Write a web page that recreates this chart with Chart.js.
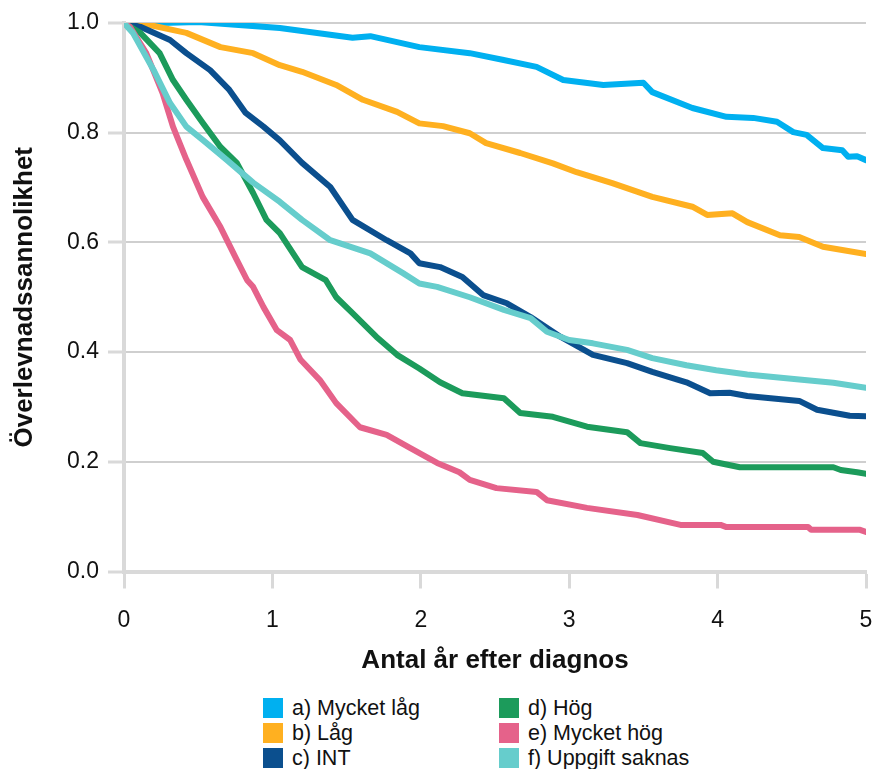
<!DOCTYPE html>
<html>
<head>
<meta charset="utf-8">
<script src="https://cdn.jsdelivr.net/npm/chart.js@4/dist/chart.umd.min.js"></script>
<style>
  body { margin: 0; background: #fff; font-family: "Liberation Sans", Arial, sans-serif; }
  .wrap { position: relative; width: 875px; height: 769px; }
  .chart_box { position: absolute; left: 0; top: 0; width: 875px; height: 690px; }
  .legend { position: absolute; left: 0; top: 0; }
  .legend_item { position: absolute; height: 20px; display: flex; align-items: center; font-size: 21.5px; color: #111; white-space: nowrap; }
  .legend_item span.box { width: 20px; height: 20px; margin-right: 9px; }
</style>
</head>
<body>
<div class="wrap">
  <div class="chart_box"><canvas id="chart"></canvas></div>
  <div class="legend" id="legend"></div>
</div>
<script>
// survival curves, years after diagnosis
const labels = ["a) Mycket låg", "b) Låg", "c) INT", "d) Hög", "e) Mycket hög", "f) Uppgift saknas"];
const colors = ["#00B0F0", "#FFB020", "#0B4F8E", "#1C9B5B", "#E5628A", "#66CDCC"];

const timeA = [0, 0.25, 0.5, 0.75, 1.05, 1.54, 1.66, 1.99, 2.33, 2.55, 2.78, 2.96, 3.23, 3.5, 3.56, 3.83, 4.06, 4.24, 4.4, 4.51, 4.6, 4.71, 4.84, 4.88, 4.94, 5];
const survA = [1.0, 1.0, 1.002, 0.997, 0.991, 0.973, 0.976, 0.956, 0.945, 0.933, 0.92, 0.896, 0.887, 0.891, 0.874, 0.845, 0.829, 0.827, 0.82, 0.801, 0.796, 0.772, 0.768, 0.756, 0.757, 0.75];

const timeB = [0, 0.11, 0.42, 0.65, 0.87, 1.05, 1.2, 1.43, 1.61, 1.84, 1.99, 2.15, 2.33, 2.44, 2.67, 2.89, 3.05, 3.29, 3.56, 3.83, 3.93, 4.1, 4.2, 4.42, 4.55, 4.71, 4.84, 5];
const survB = [1.0, 1.0, 0.982, 0.956, 0.945, 0.923, 0.911, 0.887, 0.86, 0.838, 0.817, 0.812, 0.799, 0.781, 0.763, 0.744, 0.728, 0.708, 0.683, 0.665, 0.65, 0.653, 0.637, 0.613, 0.61, 0.592, 0.586, 0.579];

const timeC = [0, 0.11, 0.31, 0.42, 0.58, 0.71, 0.82, 0.94, 1.05, 1.2, 1.39, 1.54, 1.77, 1.93, 1.99, 2.13, 2.28, 2.42, 2.58, 2.74, 2.94, 3.16, 3.39, 3.56, 3.79, 3.95, 4.08, 4.2, 4.55, 4.67, 4.89, 5];
const survC = [1.0, 0.993, 0.969, 0.945, 0.914, 0.878, 0.836, 0.811, 0.786, 0.745, 0.701, 0.641, 0.604, 0.58, 0.562, 0.555, 0.537, 0.504, 0.489, 0.464, 0.428, 0.395, 0.38, 0.364, 0.345, 0.325, 0.326, 0.32, 0.311, 0.295, 0.284, 0.283];

const timeD = [0, 0.11, 0.24, 0.33, 0.42, 0.53, 0.65, 0.76, 0.87, 0.96, 1.05, 1.2, 1.36, 1.43, 1.54, 1.7, 1.84, 1.99, 2.13, 2.28, 2.56, 2.67, 2.89, 3.12, 3.39, 3.48, 3.68, 3.9, 3.97, 4.15, 4.78, 4.83, 4.94, 5];
const survD = [1.0, 0.982, 0.945, 0.896, 0.86, 0.818, 0.774, 0.745, 0.69, 0.641, 0.617, 0.555, 0.531, 0.5, 0.471, 0.428, 0.395, 0.37, 0.345, 0.325, 0.316, 0.289, 0.282, 0.264, 0.254, 0.234, 0.225, 0.216, 0.2, 0.19, 0.19, 0.185, 0.181, 0.178];

const timeE = [0, 0.04, 0.15, 0.26, 0.33, 0.42, 0.53, 0.65, 0.76, 0.83, 0.87, 0.94, 1.03, 1.12, 1.19, 1.32, 1.43, 1.59, 1.77, 1.93, 2.11, 2.26, 2.33, 2.51, 2.78, 2.85, 3.12, 3.46, 3.75, 4.02, 4.06, 4.61, 4.63, 4.96, 5];
const survE = [1.0, 0.993, 0.945, 0.872, 0.811, 0.751, 0.683, 0.628, 0.568, 0.531, 0.519, 0.482, 0.44, 0.422, 0.386, 0.349, 0.307, 0.263, 0.249, 0.225, 0.198, 0.181, 0.167, 0.152, 0.145, 0.13, 0.116, 0.103, 0.085, 0.085, 0.081, 0.081, 0.076, 0.076, 0.072];

const timeF = [0, 0.06, 0.2, 0.31, 0.42, 0.53, 0.69, 0.87, 1.05, 1.2, 1.39, 1.66, 1.88, 1.99, 2.11, 2.33, 2.56, 2.74, 2.85, 3.0, 3.16, 3.39, 3.56, 3.79, 3.99, 4.2, 4.55, 4.78, 5];
const survF = [1.0, 0.982, 0.914, 0.854, 0.811, 0.787, 0.751, 0.709, 0.674, 0.641, 0.604, 0.58, 0.544, 0.525, 0.519, 0.5, 0.477, 0.462, 0.437, 0.422, 0.416, 0.404, 0.389, 0.376, 0.367, 0.359, 0.35, 0.344, 0.335];

const xTicks = [0, 1, 2, 3, 4, 5];
const yTicks = [0, 0.2, 0.4, 0.6, 0.8, 1.0];

const times = [timeA, timeB, timeC, timeD, timeE, timeF];
const survs = [survA, survB, survC, survD, survE, survF];

const datasets = labels.map((label, i) => ({
  label: label,
  data: times[i].map((t, j) => ({ x: t, y: survs[i][j] })),
  borderColor: colors[i],
  backgroundColor: colors[i],
  borderWidth: 6,
  borderJoinStyle: "round",
  borderCapStyle: "round",
  pointRadius: 0,
  tension: 0,
  order: labels.length - i,
}));

const gridGrey = "#cfcfcf";
const axisGrey = "#d9d9d9";

new Chart(document.getElementById("chart"), {
  type: "line",
  data: { datasets: datasets },
  options: {
    responsive: true,
    maintainAspectRatio: false,
    animation: false,
    layout: { padding: { top: 23, right: 9, bottom: 13.5, left: 9.4 } },
    plugins: { legend: { display: false }, tooltip: { enabled: false } },
    scales: {
      x: {
        type: "linear",
        min: 0,
        max: 5,
        afterFit: (scale) => { scale.height = 105; scale.paddingLeft = 0; scale.paddingRight = 0; },
        afterBuildTicks: (scale) => { scale.ticks = xTicks.map((v) => ({ value: v })); },
        ticks: { color: "#111", font: { size: 23, family: "Liberation Sans" }, padding: 18, maxRotation: 0 },
        grid: { drawOnChartArea: false, drawTicks: true, tickLength: 17, tickColor: axisGrey, tickWidth: 3 },
        border: { color: axisGrey, width: 4 },
        title: { display: true, text: "Antal år efter diagnos", color: "#111", padding: 0, font: { size: 26, weight: "bold", family: "Liberation Sans" } },
      },
      y: {
        min: 0,
        max: 1,
        afterFit: (scale) => { scale.width = 114.6; },
        afterBuildTicks: (scale) => { scale.ticks = yTicks.map((v) => ({ value: v })); },
        ticks: { color: "#111", font: { size: 23, family: "Liberation Sans" }, padding: 9, callback: (v) => v.toFixed(1) },
        grid: { color: gridGrey, lineWidth: 2, tickLength: 16, tickColor: axisGrey, tickWidth: 3 },
        border: { color: axisGrey, width: 4 },
        title: { display: true, text: "Överlevnadssannolikhet", color: "#111", padding: 0, font: { size: 26, weight: "bold", family: "Liberation Sans" } },
      },
    },
  },
});

// two-column legend under the chart
const legendPos = [[263, 698], [263, 723], [263, 748], [499, 698], [499, 723], [499, 748]];
const legend = document.getElementById("legend");
labels.forEach((label, i) => {
  const item = document.createElement("div");
  item.className = "legend_item";
  item.style.left = legendPos[i][0] + "px";
  item.style.top = legendPos[i][1] + "px";
  item.innerHTML = '<span class="box" style="background:' + colors[i] + '"></span>' + label;
  legend.appendChild(item);
});
</script>
</body>
</html>
